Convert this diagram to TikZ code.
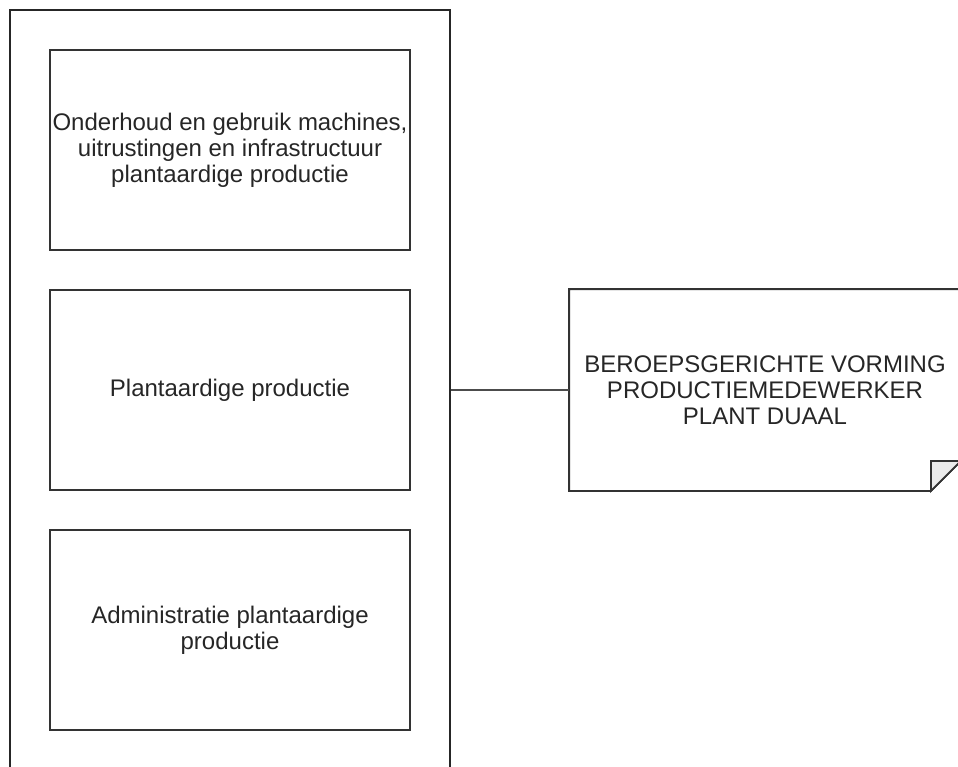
\documentclass[tikz,border=0pt]{standalone}
\usepackage{fontspec}
\setmainfont{Liberation Sans}
\usetikzlibrary{positioning,calc}

\begin{document}
\begin{tikzpicture}[
    x=0.75pt, y=-0.75pt, line width=1.4pt,
    font=\fontsize{18}{19.5}\selectfont,
    box/.style={draw=black!80, align=center, text=black!85, minimum width=270pt, minimum height=150pt, inner sep=0pt},
    grpbox/.style={draw=black!85, minimum width=330pt, minimum height=577.5pt, inner sep=0pt},
    notebox/.style={align=center, text=black!85, minimum width=292.5pt, minimum height=150pt, inner sep=0pt}]
  \useasboundingbox (0,0) rectangle (958,767);
  \clip (0,0) rectangle (958,767);
  \node[grpbox] (grp) at (230,395) {};
  \node[box] (top) at (230,150) {Onderhoud en gebruik machines,\\uitrustingen en infrastructuur\\plantaardige productie};
  \node[box] (mid) at (230,390) {Plantaardige productie};
  \node[box] (bot) at (230,630) {Administratie plantaardige\\productie};
  \node[notebox] (note) at (765,390) {BEROEPSGERICHTE VORMING\\PRODUCTIEMEDEWERKER\\PLANT DUAAL};
  % note outline with folded corner
  \draw[draw=black!80] (note.north west) -- (note.north east) -- ([yshift=22.5pt]note.south east)
    -- ([xshift=-22.5pt]note.south east) -- (note.south west) -- cycle;
  \draw[draw=black!80, fill=black!8] ([xshift=-22.5pt]note.south east) -- ([xshift=-22.5pt,yshift=22.5pt]note.south east)
    -- ([yshift=22.5pt]note.south east) -- cycle;
  \draw[draw=black!70] (mid.east -| grp.east) -- (note.west);
\end{tikzpicture}
\end{document}
